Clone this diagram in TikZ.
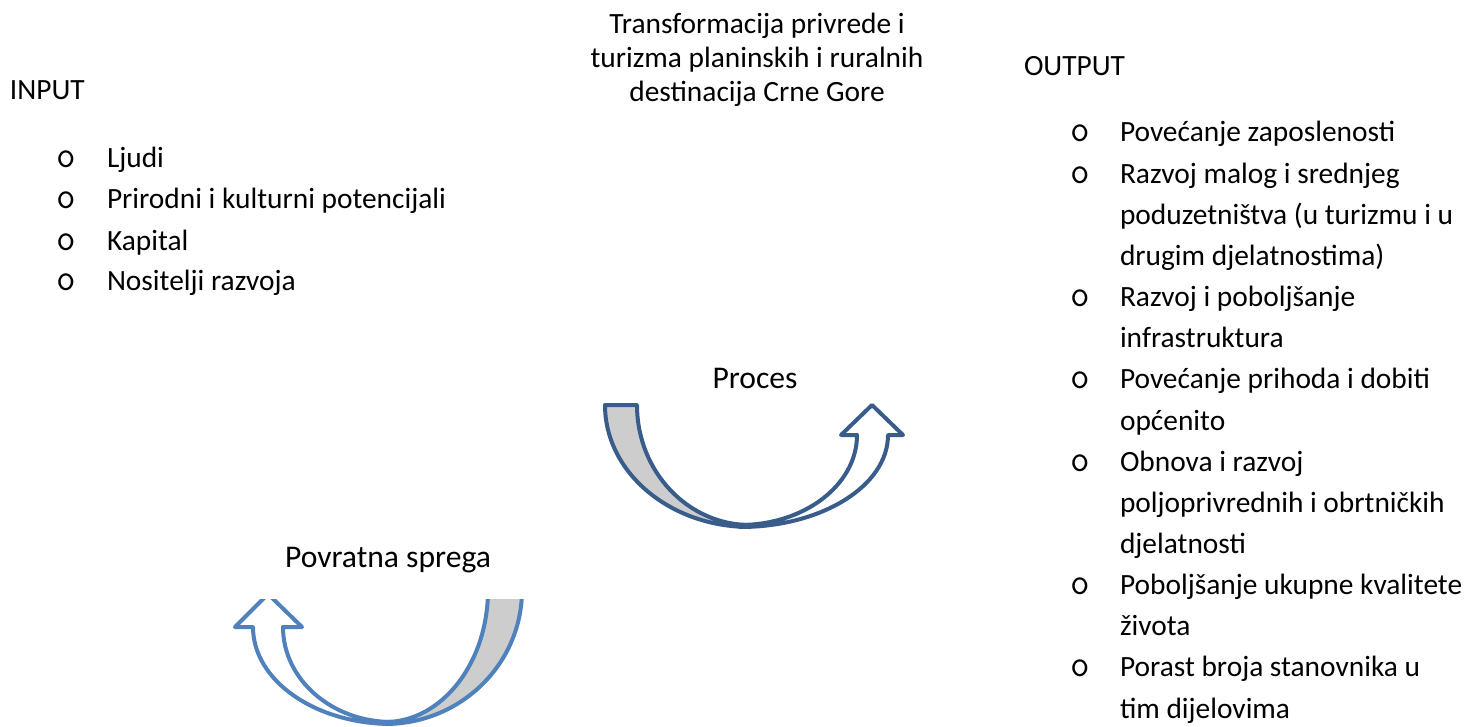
\documentclass[tikz,border=0pt]{standalone}
\usepackage{fontspec}
\setmainfont{Carlito}
\definecolor{procblue}{HTML}{385D8A}
\definecolor{loopblue}{HTML}{4F81BD}
\definecolor{bandgray}{HTML}{CDCDCD}
\begin{document}
\begin{tikzpicture}[x=0.5pt,y=-0.5pt,
  every node/.style={inner sep=0pt,outer sep=0pt},
  txt/.style={font=\fontsize{14.7}{20.57}\selectfont,anchor=base west,align=left},
  lab/.style={font=\fontsize{15.8}{20.57}\selectfont,anchor=base},
  head/.style={font=\fontsize{14.7}{17.2}\selectfont,anchor=base,align=center},
  bul/.style={font=\ttfamily\fontsize{19}{19}\selectfont,anchor=base},
  band/.style={line width=2pt,line join=round}]
\useasboundingbox (0,0) rectangle (1466,727);

% title and headings (multi-line nodes sit on their last baseline)
\node[head] (title) at (757,102) {Transformacija privrede i\\turizma planinskih i ruralnih\\destinacija Crne Gore};
\node[txt] (input) at (10,100) {INPUT};
\node[txt] (output) at (1024,76) {OUTPUT};

% input list
\node[bul] at (66,168) {o}; \node[txt] (in1) at (107,168) {Ljudi};
\node[bul] at (66,209) {o}; \node[txt] (in2) at (107,209) {Prirodni i kulturni potencijali};
\node[bul] at (66,250) {o}; \node[txt] (in3) at (107,250) {Kapital};
\node[bul] at (66,291) {o}; \node[txt] (in4) at (107,291) {Nositelji razvoja};

% output list
\node[bul] at (1080,142) {o}; \node[txt] (out1) at (1120,142) {Povećanje zaposlenosti};
\node[bul] at (1080,183.1) {o}; \node[txt] (out2) at (1120,265.4) {Razvoj malog i srednjeg\\poduzetništva (u turizmu i u\\drugim djelatnostima)};
\node[bul] at (1080,306.6) {o}; \node[txt] (out3) at (1120,347.7) {Razvoj i poboljšanje\\infrastruktura};
\node[bul] at (1080,388.8) {o}; \node[txt] (out4) at (1120,430.0) {Povećanje prihoda i dobiti\\općenito};
\node[bul] at (1080,471.1) {o}; \node[txt] (out5) at (1120,553.4) {Obnova i razvoj\\poljoprivrednih i obrtničkih\\djelatnosti};
\node[bul] at (1080,594.5) {o}; \node[txt] (out6) at (1120,635.7) {Poboljšanje ukupne kvalitete\\života};
\node[bul] at (1080,676.8) {o}; \node[txt] (out7) at (1120,718.0) {Porast broja stanovnika u\\tim dijelovima};

% process arrow
\node[lab] (proc) at (755,388) {Proces};
\draw[band,draw=procblue,fill=white] (740,527) arc[start angle=90,end angle=0,x radius=148,y radius=92]
  -- (903,435) -- (872,405) -- (841,435) -- (857,435)
  arc[start angle=0,end angle=90,x radius=117,y radius=90] -- cycle;
\draw[band,draw=procblue,fill=bandgray] (605,405) arc[start angle=180,end angle=90,x radius=145,y radius=122]
  -- (750,525) arc[start angle=90,end angle=180,x radius=113,y radius=120] -- cycle;

% feedback arrow
\node[lab] (feedback) at (388,567) {Povratna sprega};
\begin{scope}
\clip (0,599) rectangle (1466,727);
\draw[band,draw=loopblue,fill=white] (392,724) arc[start angle=90,end angle=180,x radius=139,y radius=97]
  -- (235,627) -- (268,594) -- (302,627) -- (283,627)
  arc[start angle=180,end angle=90,x radius=109,y radius=95] -- cycle;
\draw[band,draw=loopblue,fill=bandgray] (522,590) arc[start angle=0,end angle=90,x radius=137,y radius=134]
  -- (385,722) arc[start angle=90,end angle=0,x radius=103,y radius=132] -- cycle;
\end{scope}
\end{tikzpicture}
\end{document}
